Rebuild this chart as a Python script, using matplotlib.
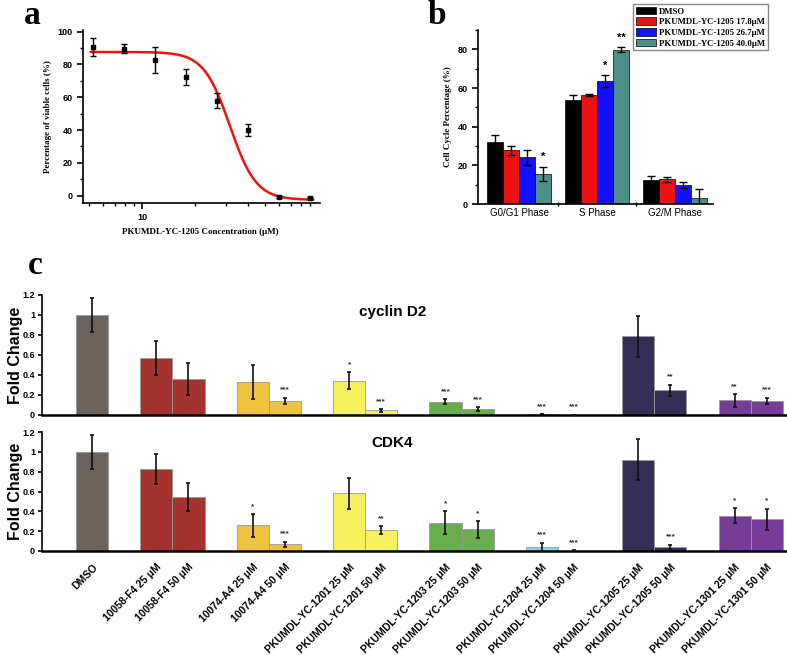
import numpy as np
import matplotlib
matplotlib.use("Agg")
import matplotlib.pyplot as plt
from matplotlib.ticker import FixedLocator, NullFormatter

SERIF = "Liberation Serif"
SANS = "Liberation Sans"

# ---- panel a: viability dose response ----
conc = [5.27, 7.9, 11.85, 17.78, 26.67, 40.0, 60.0, 90.0]
viable = [90.9, 89.7, 82.8, 72.3, 58.0, 40.2, -1.0, -1.4]
viable_err = [5.5, 3.0, 7.8, 5.0, 4.6, 3.6, 0.6, 0.6]
# fitted logistic parameters (top, bottom, IC50, hill)
fit_top, fit_bottom, fit_ic50, fit_hill = 87.6, -2.6, 31.6, 5.8

# ---- panel b: cell cycle ----
phases = ["G0/G1 Phase", "S Phase", "G2/M Phase"]
cc_labels = ["DMSO", "PKUMDL-YC-1205 17.8\u03bcM", "PKUMDL-YC-1205 26.7\u03bcM",
             "PKUMDL-YC-1205 40.0\u03bcM"]
cc_colors = ["#000000", "#ee1111", "#1111ff", "#4f8f89"]
cc_vals = [[31.9, 54.0, 12.5],
           [27.7, 56.6, 12.8],
           [24.2, 63.5, 9.9],
           [15.6, 79.7, 3.0]]
cc_err = [[4.0, 2.3, 2.2],
          [2.4, 0.5, 1.4],
          [3.8, 3.0, 1.7],
          [3.5, 1.3, 4.6]]
cc_sig = [["", "", ""], ["", "", ""], ["", "*", ""], ["*", "**", ""]]

# ---- panel c: fold change ----
treat = ["DMSO", "10058-F4 25 \u03bcM", "10058-F4 50 \u03bcM", "10074-A4 25 \u03bcM",
         "10074-A4 50 \u03bcM", "PKUMDL-YC-1201 25 \u03bcM", "PKUMDL-YC-1201 50 \u03bcM",
         "PKUMDL-YC-1203 25 \u03bcM", "PKUMDL-YC-1203 50 \u03bcM",
         "PKUMDL-YC-1204 25 \u03bcM", "PKUMDL-YC-1204 50 \u03bcM",
         "PKUMDL-YC-1205 25 \u03bcM", "PKUMDL-YC-1205 50 \u03bcM",
         "PKUMDL-YC-1301 25 \u03bcM", "PKUMDL-YC-1301 50 \u03bcM"]
treat_pos = [0, 2, 3, 5, 6, 8, 9, 11, 12, 14, 15, 17, 18, 20, 21]
treat_colors = ["#6c635d", "#a5332d", "#a5332d", "#efc240", "#efc240", "#f6f05c",
                "#f6f05c", "#69ad4e", "#69ad4e", "#8bcfe8", "#8bcfe8", "#352f58",
                "#352f58", "#773c97", "#773c97"]
d2_vals = [1.0, 0.567, 0.36, 0.33, 0.143, 0.343, 0.047, 0.133, 0.06, 0.006, 0.003,
           0.79, 0.247, 0.147, 0.14]
d2_err = [0.17, 0.17, 0.16, 0.17, 0.03, 0.085, 0.013, 0.027, 0.02, 0.0, 0.0,
          0.205, 0.057, 0.063, 0.033]
d2_sig = ["", "", "", "", "***", "*", "***", "***", "***", "***", "***", "", "**", "**", "***"]
cdk4_vals = [1.0, 0.828, 0.546, 0.258, 0.067, 0.58, 0.211, 0.285, 0.218, 0.04, 0.005,
             0.922, 0.044, 0.355, 0.318]
cdk4_err = [0.17, 0.155, 0.14, 0.115, 0.027, 0.157, 0.042, 0.117, 0.085, 0.045, 0.004,
            0.21, 0.02, 0.075, 0.11]
cdk4_sig = ["", "", "", "*", "***", "", "**", "*", "*", "***", "***", "", "***", "*", "*"]


def fig_rect(left, top, right, bottom, W=787, H=655):
    return [left / W, 1 - bottom / H, (right - left) / W, (bottom - top) / H]


fig = plt.figure(figsize=(7.87, 6.55), dpi=100)

# ================= panel a =================
ax1 = fig.add_axes(fig_rect(83, 30, 320, 203))
ax1.set_xscale("log")
xs = np.logspace(np.log10(5.1), np.log10(94), 200)
ys = fit_bottom + (fit_top - fit_bottom) / (1 + (xs / fit_ic50) ** fit_hill)
ax1.plot(xs, ys, color="#ee1111", lw=1.8, zorder=2)
ax1.errorbar(conc, viable, yerr=viable_err, fmt="s", color="black", ms=3.5,
             capsize=2, elinewidth=1, capthick=1, zorder=3)
ax1.set_xlim(4.6, 103)
ax1.set_ylim(-4.5, 101)
ax1.xaxis.set_major_locator(FixedLocator([10]))
ax1.xaxis.set_minor_locator(FixedLocator([5, 6, 7, 8, 9, 20, 30, 40, 50, 60, 70, 80, 90]))
ax1.xaxis.set_minor_formatter(NullFormatter())
ax1.set_xticklabels(["10"])
ax1.set_yticks([0, 20, 40, 60, 80, 100])
ax1.set_yticks([10, 30, 50, 70, 90], minor=True)
for s in ["top", "right"]:
    ax1.spines[s].set_visible(False)
for s in ["left", "bottom"]:
    ax1.spines[s].set_linewidth(1.2)
ax1.tick_params(which="major", length=4, width=1.2, labelsize=6.5)
ax1.tick_params(which="minor", length=2.5, width=1)
for lab in ax1.get_xticklabels() + ax1.get_yticklabels():
    lab.set_family(SANS)
    lab.set_fontweight("bold")
ax1.set_ylabel("Percentage of viable cells (%)", family=SERIF, fontweight="bold",
               fontsize=6.5, labelpad=4)
fig.text(200 / 787, 1 - 232 / 655, "PKUMDL-YC-1205 Concentration (\u03bcM)", family=SERIF,
         fontweight="bold", fontsize=6.5, ha="center", va="center")
fig.text(32 / 787, 1 - 16 / 655, "a", family=SERIF, fontweight="bold", fontsize=24,
         ha="center", va="center")

# ================= panel b =================
ax2 = fig.add_axes(fig_rect(478, 30, 713, 204))
w = 0.205
for i in range(4):
    xpos = np.arange(3) + (i - 1.5) * w
    ax2.bar(xpos, cc_vals[i], width=w, color=cc_colors[i], edgecolor="black", lw=0.5,
            label=cc_labels[i], zorder=2)
    ax2.errorbar(xpos, cc_vals[i], yerr=cc_err[i], fmt="none", ecolor="black",
                 elinewidth=1, capsize=3, capthick=1, zorder=3)
    for j in range(3):
        if cc_sig[i][j]:
            ax2.text(xpos[j], cc_vals[i][j] + cc_err[i][j] + 2.5, cc_sig[i][j], ha="center",
                     va="bottom", fontsize=8, fontweight="bold", family=SANS)
ax2.set_xlim(-0.53, 2.49)
ax2.set_ylim(0, 90)
ax2.set_xticks([0, 1, 2])
ax2.set_xticklabels(phases, family=SANS, fontsize=7)
ax2.set_xticks([0.5, 1.5], minor=True)
ax2.tick_params(axis="x", which="major", length=0, pad=3)
ax2.tick_params(axis="x", which="minor", length=3, width=1, direction="inout")
ax2.set_yticks([0, 20, 40, 60, 80])
ax2.set_yticks([10, 30, 50, 70, 90], minor=True)
ax2.tick_params(axis="y", which="major", length=4, width=1.2, labelsize=6.5)
ax2.tick_params(axis="y", which="minor", length=2.5, width=1)
for lab in ax2.get_yticklabels():
    lab.set_family(SANS)
    lab.set_fontweight("bold")
for s in ["top", "right"]:
    ax2.spines[s].set_visible(False)
for s in ["left", "bottom"]:
    ax2.spines[s].set_linewidth(1.2)
ax2.set_ylabel("Cell Cycle Percentage (%)", family=SERIF, fontweight="bold", fontsize=6.5,
               labelpad=4)
fig.legend(loc="upper right", bbox_to_anchor=(768 / 787, 1 - 4 / 655),
           prop={"family": SERIF, "weight": "bold", "size": 6.3}, fancybox=False,
           edgecolor="#888888", framealpha=1, handlelength=2.3, handleheight=1.0,
           labelspacing=0.2, borderpad=0.3, handletextpad=0.4, borderaxespad=0)
fig.text(437 / 787, 1 - 15 / 655, "b", family=SERIF, fontweight="bold", fontsize=24,
         ha="center", va="center")

# ================= panel c =================
ax3 = fig.add_axes(fig_rect(42, 295, 786, 415))
ax4 = fig.add_axes(fig_rect(42, 432, 786, 551))
for ax, vals, errs, sig, name, ny in [(ax3, d2_vals, d2_err, d2_sig, "cyclin D2", 1.03),
                                      (ax4, cdk4_vals, cdk4_err, cdk4_sig, "CDK4", 1.09)]:
    ax.bar(treat_pos, vals, width=1.0, color=treat_colors, edgecolor="#999999", lw=0.6,
           zorder=2)
    ax.errorbar(treat_pos, vals, yerr=errs, fmt="none", ecolor="#111111", elinewidth=1.2,
                capsize=1.5, capthick=1.2, zorder=3)
    for xp, v, e, s in zip(treat_pos, vals, errs, sig):
        if s:
            ax.text(xp, v + e + 0.04, s, ha="center", va="bottom", fontsize=6,
                    fontweight="bold", color="#333333", family=SANS)
    ax.text(9.35, ny, name, ha="center", va="center", fontsize=11, fontweight="bold",
            family=SANS)
    ax.set_xlim(-1.56, 21.6)
    ax.set_ylim(0, 1.2)
    ax.set_yticks([0, 0.2, 0.4, 0.6, 0.8, 1.0, 1.2])
    ax.set_yticklabels(["0", "0.2", "0.4", "0.6", "0.8", "1", "1.2"], family=SANS,
                       fontweight="bold", fontsize=6.5)
    ax.tick_params(axis="y", length=3, width=1.2, pad=2)
    for s in ["top", "right"]:
        ax.spines[s].set_visible(False)
    ax.spines["left"].set_linewidth(1.2)
    ax.spines["bottom"].set_linewidth(1.8)
    ax.set_ylabel("Fold Change", family=SANS, fontweight="bold", fontsize=11.5)
    ax.yaxis.set_label_coords(-0.0255, 0.5)

ax3.set_xticks([])
ax4.set_xticks(treat_pos)
ax4.set_xticklabels(treat, rotation=45, ha="right", rotation_mode="anchor", family=SANS,
                    fontweight="bold", fontsize=7.5)
ax4.tick_params(axis="x", length=0, pad=8)
fig.text(35 / 787, 1 - 265 / 655, "c", family=SERIF, fontweight="bold", fontsize=24,
         ha="center", va="center")

fig.savefig("out.png", dpi=100)
